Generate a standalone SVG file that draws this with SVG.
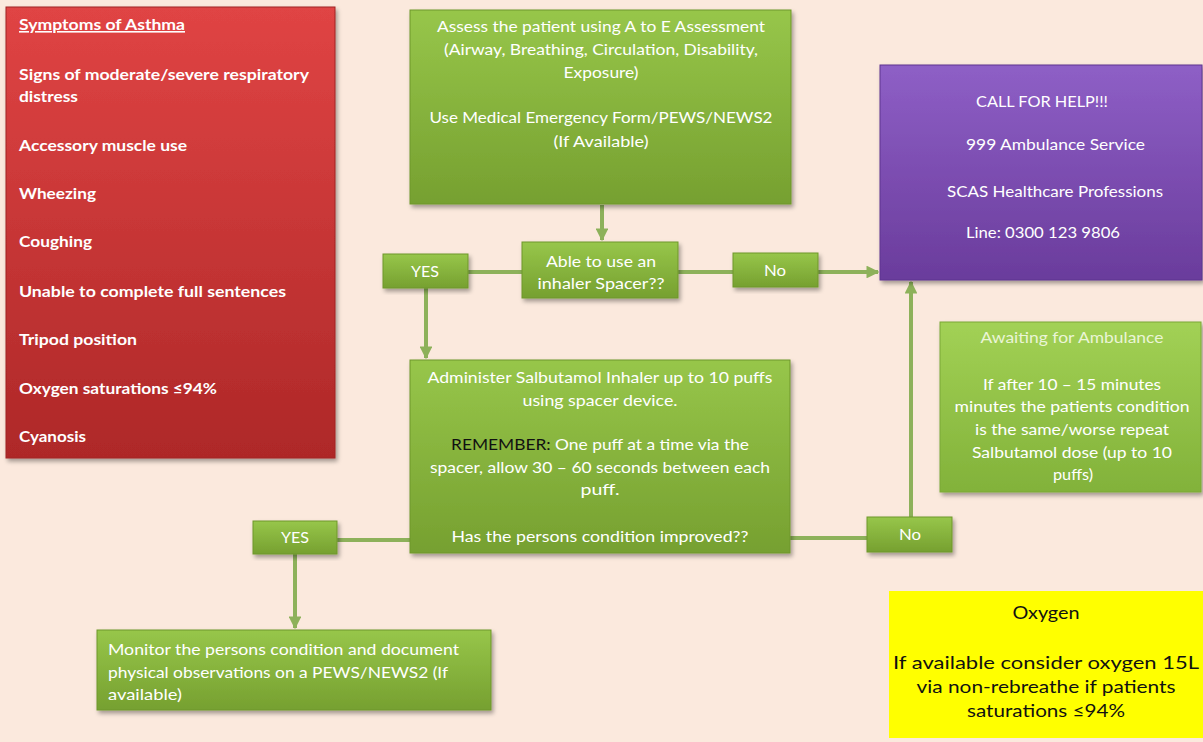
<svg xmlns="http://www.w3.org/2000/svg" width="1203" height="742" viewBox="0 0 1203 742">
<defs>
<linearGradient id="gRed" x1="0" y1="0" x2="0" y2="1"><stop offset="0" stop-color="#E04444"/><stop offset="1" stop-color="#AE2828"/></linearGradient>
<linearGradient id="gGreen" x1="0" y1="0" x2="0" y2="1"><stop offset="0" stop-color="#97C64A"/><stop offset="1" stop-color="#76A030"/></linearGradient>
<linearGradient id="gLight" x1="0" y1="0" x2="0" y2="1"><stop offset="0" stop-color="#A2D155"/><stop offset="1" stop-color="#82B23A"/></linearGradient>
<linearGradient id="gPurple" x1="0" y1="0" x2="0" y2="1"><stop offset="0" stop-color="#8E5FC6"/><stop offset="1" stop-color="#6A3C9C"/></linearGradient>
<filter id="sh" x="-10%" y="-10%" width="125%" height="130%"><feDropShadow dx="2" dy="3" stdDeviation="2" flood-color="#000" flood-opacity="0.35"/></filter>
<marker id="arr" viewBox="0 0 10 10" refX="9" refY="5" markerWidth="3.2" markerHeight="3.2" orient="auto" markerUnits="strokeWidth"><path d="M0,0 L10,5 L0,10 z" fill="#8DB15A"/></marker>
<style>
.bg{fill:#FBE9DD}
.box{filter:url(#sh);stroke-width:1}
.red{fill:url(#gRed);stroke:#A02424}
.grn{fill:url(#gGreen);stroke:#6E972B}
.lgt{fill:url(#gLight);stroke:#7BA836}
.pur{fill:url(#gPurple);stroke:#5E3590}
.yel{fill:#FFFF00}
.t{font-family:Lato,"Open Sans","Liberation Sans",sans-serif;fill:#FFFFFF;font-size:15px}
.b{font-weight:bold;font-size:16px}
.c{text-anchor:middle}
.k{fill:#111111}
.conn{stroke:#8DB15A;stroke-width:4;fill:none}
</style>
</defs>
<rect class="bg" x="0" y="0" width="1203" height="742"/>

<g id="connectors">
<line class="conn" x1="602" y1="205" x2="602" y2="240" marker-end="url(#arr)"/>
<line class="conn" x1="468" y1="272" x2="522" y2="272"/>
<line class="conn" x1="678" y1="272" x2="733" y2="272"/>
<line class="conn" x1="818" y1="272" x2="878" y2="272" marker-end="url(#arr)"/>
<line class="conn" x1="426" y1="288" x2="426" y2="358" marker-end="url(#arr)"/>
<line class="conn" x1="337" y1="540" x2="410" y2="540"/>
<line class="conn" x1="790" y1="538" x2="867" y2="538"/>
<line class="conn" x1="911" y1="517" x2="911" y2="282" marker-end="url(#arr)"/>
<line class="conn" x1="295" y1="554" x2="295" y2="628" marker-end="url(#arr)"/>
</g>

<g id="symptoms">
<rect class="box red" x="6" y="7" width="329" height="451"/>
<text class="t b" x="19" y="30" textLength="166" lengthAdjust="spacingAndGlyphs" text-decoration="underline">Symptoms of Asthma</text>
<text class="t b" x="19" y="80" textLength="290" lengthAdjust="spacingAndGlyphs">Signs of moderate/severe respiratory</text>
<text class="t b" x="19" y="102" textLength="59" lengthAdjust="spacingAndGlyphs">distress</text>
<text class="t b" x="19" y="151" textLength="168" lengthAdjust="spacingAndGlyphs">Accessory muscle use</text>
<text class="t b" x="19" y="199" textLength="77" lengthAdjust="spacingAndGlyphs">Wheezing</text>
<text class="t b" x="19" y="247" textLength="73" lengthAdjust="spacingAndGlyphs">Coughing</text>
<text class="t b" x="19" y="297" textLength="267" lengthAdjust="spacingAndGlyphs">Unable to complete full sentences</text>
<text class="t b" x="19" y="345" textLength="118" lengthAdjust="spacingAndGlyphs">Tripod position</text>
<text class="t b" x="19" y="394" textLength="198" lengthAdjust="spacingAndGlyphs">Oxygen saturations ≤94%</text>
<text class="t b" x="19" y="442" textLength="67" lengthAdjust="spacingAndGlyphs">Cyanosis</text>
</g>

<g id="assess">
<rect class="box grn" x="410" y="10" width="381" height="194"/>
<text class="t c" x="601" y="32" textLength="328" lengthAdjust="spacingAndGlyphs">Assess the patient using A to E Assessment</text>
<text class="t c" x="601" y="55" textLength="314" lengthAdjust="spacingAndGlyphs">(Airway, Breathing, Circulation, Disability,</text>
<text class="t c" x="601" y="78" textLength="75" lengthAdjust="spacingAndGlyphs">Exposure)</text>
<text class="t c" x="601" y="123" textLength="343" lengthAdjust="spacingAndGlyphs">Use Medical Emergency Form/PEWS/NEWS2</text>
<text class="t c" x="601" y="147" textLength="95" lengthAdjust="spacingAndGlyphs">(If Available)</text>
</g>

<g id="able">
<rect class="box grn" x="522" y="242" width="156" height="56"/>
<text class="t c" x="601" y="267" textLength="110" lengthAdjust="spacingAndGlyphs">Able to use an</text>
<text class="t c" x="601" y="289" textLength="127" lengthAdjust="spacingAndGlyphs">inhaler Spacer??</text>
</g>

<g id="yes1">
<rect class="box grn" x="383" y="254" width="85" height="34"/>
<text class="t c" x="425" y="277" textLength="28" lengthAdjust="spacingAndGlyphs">YES</text>
</g>

<g id="no1">
<rect class="box grn" x="733" y="253" width="85" height="34"/>
<text class="t c" x="775" y="276" textLength="22" lengthAdjust="spacingAndGlyphs">No</text>
</g>

<g id="callhelp">
<rect class="box pur" x="880" y="65" width="322" height="215"/>
<text class="t" x="976" y="107" textLength="132" lengthAdjust="spacingAndGlyphs">CALL FOR HELP!!!</text>
<text class="t" x="966" y="150" textLength="179" lengthAdjust="spacingAndGlyphs">999 Ambulance Service</text>
<text class="t" x="947" y="197" textLength="216" lengthAdjust="spacingAndGlyphs">SCAS Healthcare Professions</text>
<text class="t" x="966" y="238" textLength="154" lengthAdjust="spacingAndGlyphs">Line: 0300 123 9806</text>
</g>

<g id="awaiting">
<rect class="box lgt" x="940" y="322" width="261" height="170"/>
<text class="t c" x="1072" y="343" textLength="183" lengthAdjust="spacingAndGlyphs" style="fill:#EAF5D6">Awaiting for Ambulance</text>
<text class="t c" x="1072" y="390" textLength="178" lengthAdjust="spacingAndGlyphs">If after 10 – 15 minutes</text>
<text class="t c" x="1072" y="412" textLength="235" lengthAdjust="spacingAndGlyphs">minutes the patients condition</text>
<text class="t c" x="1072" y="435" textLength="194" lengthAdjust="spacingAndGlyphs">is the same/worse repeat</text>
<text class="t c" x="1072" y="458" textLength="200" lengthAdjust="spacingAndGlyphs">Salbutamol dose (up to 10</text>
<text class="t c" x="1073" y="480" textLength="40" lengthAdjust="spacingAndGlyphs">puffs)</text>
</g>

<g id="salbutamol">
<rect class="box grn" x="410" y="360" width="380" height="193"/>
<text class="t c" x="600" y="383" textLength="345" lengthAdjust="spacingAndGlyphs">Administer Salbutamol Inhaler up to 10 puffs</text>
<text class="t c" x="600" y="406" textLength="155" lengthAdjust="spacingAndGlyphs">using spacer device.</text>
<text class="t c" x="600" y="450" textLength="298" lengthAdjust="spacingAndGlyphs"><tspan class="k">REMEMBER:</tspan> One puff at a time via the</text>
<text class="t c" x="600" y="473" textLength="340" lengthAdjust="spacingAndGlyphs">spacer, allow 30 – 60 seconds between each</text>
<text class="t c" x="600" y="495" textLength="39" lengthAdjust="spacingAndGlyphs">puff.</text>
<text class="t c" x="600" y="542" textLength="297" lengthAdjust="spacingAndGlyphs">Has the persons condition improved??</text>
</g>

<g id="yes2">
<rect class="box grn" x="253" y="521" width="84" height="33"/>
<text class="t c" x="295" y="543" textLength="28" lengthAdjust="spacingAndGlyphs">YES</text>
</g>

<g id="no2">
<rect class="box grn" x="867" y="517" width="85" height="35"/>
<text class="t c" x="910" y="540" textLength="22" lengthAdjust="spacingAndGlyphs">No</text>
</g>

<g id="monitor">
<rect class="box grn" x="97" y="630" width="394" height="80"/>
<text class="t" x="108" y="655" textLength="351" lengthAdjust="spacingAndGlyphs">Monitor the persons condition and document</text>
<text class="t" x="108" y="678" textLength="340" lengthAdjust="spacingAndGlyphs">physical observations on a PEWS/NEWS2 (If</text>
<text class="t" x="108" y="700" textLength="74" lengthAdjust="spacingAndGlyphs">available)</text>
</g>

<g id="oxygen">
<rect class="yel" x="889" y="591" width="314" height="147"/>
<text class="t c k" x="1046" y="619" style="font-size:17px" textLength="67" lengthAdjust="spacingAndGlyphs">Oxygen</text>
<text class="t c k" x="1046" y="669" style="font-size:17px" textLength="306" lengthAdjust="spacingAndGlyphs">If available consider oxygen 15L</text>
<text class="t c k" x="1046" y="693" style="font-size:17px" textLength="259" lengthAdjust="spacingAndGlyphs">via non-rebreathe if patients</text>
<text class="t c k" x="1046" y="717" style="font-size:17px" textLength="158" lengthAdjust="spacingAndGlyphs">saturations ≤94%</text>
</g>
</svg>
